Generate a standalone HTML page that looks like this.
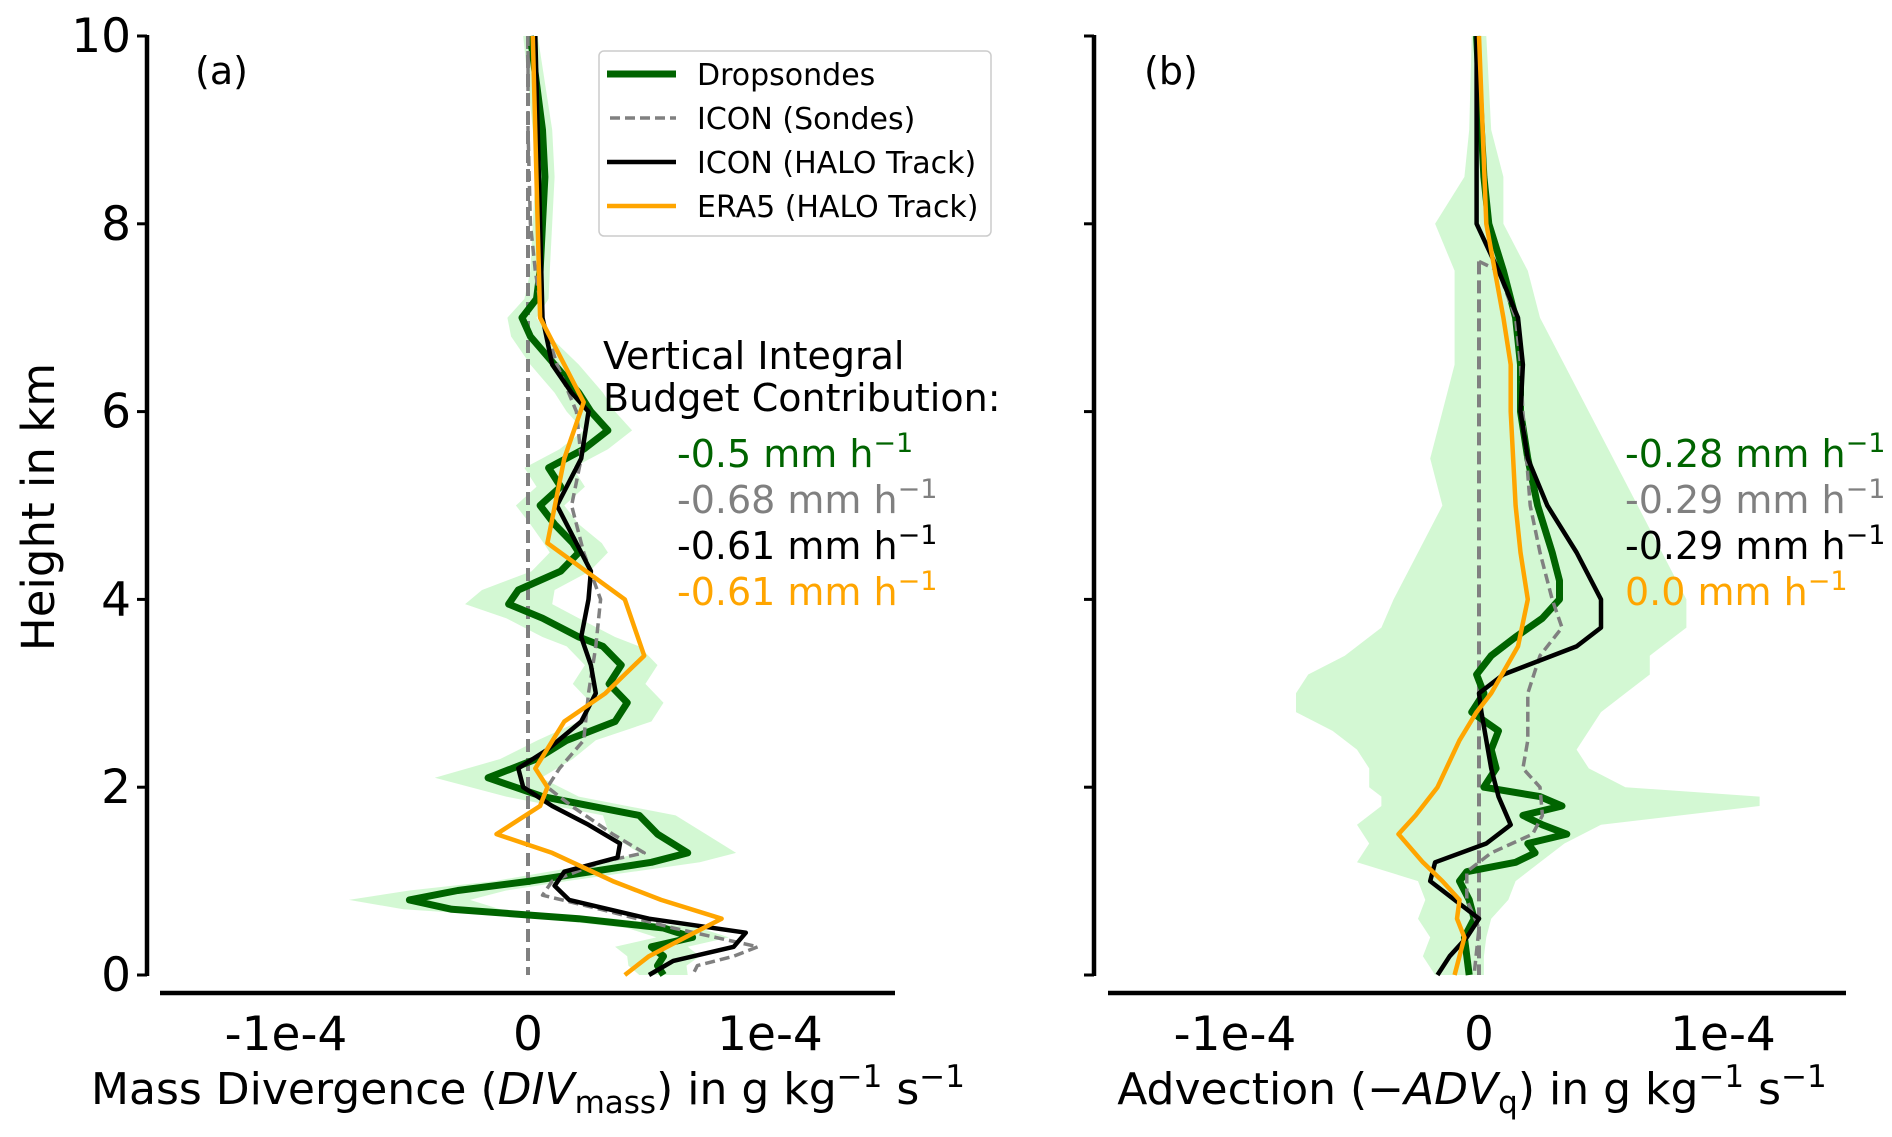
<!DOCTYPE html>
<html><head><meta charset="utf-8">
<style>
html,body{margin:0;padding:0;background:#fff;}
svg{display:block;font-family:"DejaVu Sans","Liberation Sans",sans-serif;}
</style></head>
<body>
<svg id="chart" width="1892" height="1137" viewBox="0 0 1892 1137" xmlns="http://www.w3.org/2000/svg">
<g id="panelA"></g>
<g id="panelB"></g>
<g id="static">
  <text transform="translate(54,507) rotate(-90)" text-anchor="middle" font-size="45">Height in km</text>
  <text x="528" y="1104" text-anchor="middle" font-size="44">Mass Divergence (<tspan font-style="italic">DIV</tspan><tspan font-size="31" dy="9">mass</tspan><tspan dy="-9">) in g kg</tspan><tspan font-size="31" dy="-17">−1</tspan><tspan dy="17"> s</tspan><tspan font-size="31" dy="-17">−1</tspan></text>
  <text x="1472" y="1104" text-anchor="middle" font-size="44">Advection (−<tspan font-style="italic">ADV</tspan><tspan font-size="31" dy="9">q</tspan><tspan dy="-9">) in g kg</tspan><tspan font-size="31" dy="-17">−1</tspan><tspan dy="17"> s</tspan><tspan font-size="31" dy="-17">−1</tspan></text>
  <text x="195" y="84" font-size="38">(a)</text>
  <text x="1144" y="84" font-size="38">(b)</text>
  <g>
    <rect x="599" y="51" width="392" height="185" rx="5" fill="#fff" fill-opacity="0.8" stroke="#ccc" stroke-width="1.5"/>
    <line x1="607" y1="74" x2="676" y2="74" stroke="#006400" stroke-width="7"/>
    <text x="697" y="85" font-size="30">Dropsondes</text>
    <line x1="610" y1="118" x2="676" y2="118" stroke="#808080" stroke-width="3.5" stroke-dasharray="10,5"/>
    <text x="697" y="129" font-size="30">ICON (Sondes)</text>
    <line x1="607" y1="162" x2="676" y2="162" stroke="#000" stroke-width="4.5"/>
    <text x="697" y="173" font-size="30">ICON (HALO Track)</text>
    <line x1="607" y1="206" x2="676" y2="206" stroke="#FFA500" stroke-width="4.5"/>
    <text x="697" y="217" font-size="30">ERA5 (HALO Track)</text>
  </g>
  <g font-size="38">
    <text x="603" y="369">Vertical Integral</text>
    <text x="603" y="411">Budget Contribution:</text>
    <text x="677" y="467" fill="#006400">-0.5 mm h<tspan font-size="27" dy="-15">−1</tspan></text>
    <text x="677" y="513" fill="#808080">-0.68 mm h<tspan font-size="27" dy="-15">−1</tspan></text>
    <text x="677" y="559" fill="#000">-0.61 mm h<tspan font-size="27" dy="-15">−1</tspan></text>
    <text x="677" y="605" fill="#FFA500">-0.61 mm h<tspan font-size="27" dy="-15">−1</tspan></text>
  </g>
  <g font-size="38">
    <text x="1625" y="467" fill="#006400">-0.28 mm h<tspan font-size="27" dy="-15">−1</tspan></text>
    <text x="1625" y="513" fill="#808080">-0.29 mm h<tspan font-size="27" dy="-15">−1</tspan></text>
    <text x="1625" y="559" fill="#000">-0.29 mm h<tspan font-size="27" dy="-15">−1</tspan></text>
    <text x="1625" y="605" fill="#FFA500">0.0 mm h<tspan font-size="27" dy="-15">−1</tspan></text>
  </g>
</g>
</svg>
<script>
// values in units of 1e-5 g/kg/s, heights in km
const hDropA = [10,9,8.5,8,7.5,7.2,7.0,6.8,6.5,6.2,6.0,5.8,5.6,5.4,5.2,5.0,4.8,4.6,4.5,4.3,4.1,3.95,3.8,3.6,3.5,3.3,3.1,2.9,2.7,2.5,2.3,2.1,1.9,1.7,1.5,1.3,1.2,1.0,0.9,0.8,0.7,0.6,0.5,0.4,0.3,0.2,0.1,0];
const vDropA = [0.1,0.6,0.7,0.6,0.5,0.35,-0.25,0.1,1.1,2.1,2.6,3.3,2.3,0.85,1.35,0.5,1.1,1.85,2.1,1.35,-0.4,-0.8,0.6,2.1,3.1,3.85,3.35,4.1,3.6,1.6,0.35,-1.65,0.6,4.6,5.35,6.6,5.1,0.1,-2.9,-4.9,-3.15,2.1,5.6,6.8,5.1,5.6,5.35,5.6];
const sprDropA = [0.3,0.4,0.4,0.4,0.4,0.5,0.6,0.8,1,1,1,1,1,1,1,1,1,1.2,1.2,1.2,1.5,1.8,1.5,1.5,1.5,1.5,1.5,1.5,1.5,1.2,1.5,2.2,1.5,1.5,2,2,2,1.5,2,2.5,2,1.5,1.5,1.5,1.5,1.5,1.2,1];
const hIcsA = [10,9,8,7.5,7,6.5,6,5.5,5,4.5,4,3.5,3,2.5,2.2,2.0,1.8,1.5,1.3,1.2,1.0,0.85,0.7,0.5,0.3,0.2,0.1,0];
const vIcsA = [0,0,0.1,0.3,0.6,1.2,2.0,2.2,1.8,2.3,3.0,2.8,2.5,2.3,1.3,0.8,1.8,3.5,4.8,3.0,1.0,0.6,3.0,6.0,9.5,8.5,7.0,6.8];
const hIchA = [10,8,7,6.5,6.2,6.0,5.5,5.0,4.6,4.3,4.0,3.6,3.3,3.0,2.7,2.4,2.2,2.0,1.8,1.6,1.4,1.25,1.1,0.95,0.8,0.6,0.45,0.3,0.15,0];
const vIchA = [0.3,0.5,0.6,1.0,1.8,2.5,2.2,1.2,2.0,2.6,2.5,2.2,2.6,2.8,2.2,0.8,-0.4,-0.2,1.0,2.5,3.8,3.7,1.5,1.1,1.7,5.0,9.0,8.5,6.0,5.0];
const hEraA = [10,7.0,6.1,5.5,4.6,4.0,3.4,3.0,2.7,2.2,2.0,1.8,1.5,1.3,1.0,0.8,0.6,0.4,0.2,0];
const vEraA = [0.2,0.5,2.3,1.5,0.8,4.0,4.8,3.2,1.5,0.3,0.8,0.5,-1.3,1.0,3.5,5.5,8.0,6.5,5.0,4.0];

const hDropB = [10,9,8.5,8,7.5,7,6.5,6,5.5,5,4.5,4.2,4.0,3.8,3.6,3.4,3.2,3.0,2.8,2.6,2.4,2.2,2.0,1.9,1.8,1.7,1.6,1.5,1.4,1.3,1.2,1.1,1.0,0.8,0.6,0.4,0.2,0];
const vDropB = [-0.1,0.1,0.2,0.4,1.0,1.5,1.7,1.7,2.0,2.4,3.0,3.3,3.3,2.6,1.5,0.5,-0.1,0.2,-0.3,0.8,0.5,0.7,0.2,2.5,3.4,1.8,2.6,3.6,2.0,2.3,1.5,-0.5,-0.8,-0.4,-0.2,-0.6,-0.5,-0.4];
const hBandB = [10,9,8.5,8,7.5,7,6.5,6,5.5,5,4.5,4.0,3.7,3.4,3.2,3.0,2.8,2.6,2.4,2.2,2.0,1.9,1.8,1.6,1.4,1.2,1.0,0.8,0.6,0.4,0.2,0];
const loBandB = [-0.3,-0.4,-0.6,-1.8,-1.0,-1.0,-1.0,-1.5,-2.0,-1.5,-2.5,-3.5,-4.0,-5.5,-7.0,-7.5,-7.5,-6.0,-5.0,-4.5,-4.5,-4.0,-4.0,-5.0,-4.5,-5.0,-2.5,-2.2,-2.5,-2.0,-2.3,-1.8];
const hiBandB = [0.3,0.5,1.0,1.0,2.0,2.5,3.5,4.5,5.5,6.5,7.5,8.5,8.5,7.0,7.0,6.0,5.0,4.5,4.0,4.5,6.0,11.5,11.5,5.0,3.5,2.5,1.5,1.2,0.5,0.3,0.2,0.2];
const hIcsB = [7.6,7.5,7,6.5,6,5,4.5,4,3.7,3.4,3.0,2.5,2.2,2.0,1.7,1.5,1.3,1.1,0.8,0.5,0];
const vIcsB = [0,0.8,1.5,1.7,1.8,2.1,2.5,3.0,3.4,2.5,2.0,2.0,1.8,2.5,2.6,2.2,0.5,-0.5,-0.5,0,-0.2];
const hIchB = [10,8,7.5,7,6.5,6,5.5,5,4.5,4.0,3.7,3.5,3.2,3.0,2.8,2.2,1.9,1.6,1.4,1.2,1.0,0.8,0.6,0.4,0.2,0];
const vIchB = [-0.1,-0.1,0.8,1.6,1.8,1.7,2.0,2.8,4.0,5.0,5.0,4.0,1.0,0,0.1,0.5,0.8,1.3,0.3,-1.8,-2.0,-1.0,0,-0.5,-1.2,-1.7];
const hEraB = [10,8,7,6.5,6,5,4.5,4.0,3.5,3.0,2.8,2.5,2.0,1.7,1.5,1.2,1.0,0.8,0.6,0.4,0.2,0];
const vEraB = [0,0.3,1.0,1.3,1.3,1.5,1.7,2.0,1.6,0.5,-0.1,-0.8,-1.7,-2.6,-3.3,-2.3,-1.5,-0.8,-0.9,-0.6,-0.8,-1.0];

const xTicks = [-10,0,10];
const xTickLabels = ['-1e-4','0','1e-4'];
const yTicks = [0,2,4,6,8,10];

const NS='http://www.w3.org/2000/svg';
function mk(tag,attrs,parent){const e=document.createElementNS(NS,tag);for(const k in attrs)e.setAttribute(k,attrs[k]);parent.appendChild(e);return e;}
const Y0=975, Y10=36;
function yS(h){return Y0+(Y10-Y0)*h/10;}

function drawPanel(g, x0, pxPer, axisX, xLeft, xRight, showYLabels, cfg){
  const xS=v=>x0+v*pxPer;
  let d='';
  cfg.bandH.forEach((h,i)=>{d+=(i?'L':'M')+xS(cfg.bandLo[i]).toFixed(1)+','+yS(h).toFixed(1);});
  for(let i=cfg.bandH.length-1;i>=0;i--){d+='L'+xS(cfg.bandHi[i]).toFixed(1)+','+yS(cfg.bandH[i]).toFixed(1);}
  const band=mk('path',{d:d+'Z',fill:'#90ee90','fill-opacity':'0.4',stroke:'none'},g);
  
  
  const zl=mk('line',{x1:xS(0),x2:xS(0),y1:yS(cfg.zeroTop),y2:yS(0),stroke:'#808080','stroke-width':4,'stroke-dasharray':'13,6'},g);
  
  
  function line(hs,vs,color,w,dash,name){
    const pts=hs.map((h,i)=>xS(vs[i]).toFixed(1)+','+yS(h).toFixed(1)).join(' ');
    const a={points:pts,fill:'none',stroke:color,'stroke-width':w,'stroke-linejoin':'round'};
    if(dash)a['stroke-dasharray']=dash;
    const p=mk('polyline',a,g);
    
    
  }
  line(cfg.dH,cfg.dV,'#006400',7,null,'dropsondes-line');
  line(cfg.sH,cfg.sV,'#808080',3.5,'10,5','icon-sondes-line');
  line(cfg.hH,cfg.hV,'#000',4.5,null,'icon-halo-line');
  line(cfg.eH,cfg.eV,'#FFA500',4.5,null,'era5-halo-line');
  const ya=mk('line',{x1:axisX,x2:axisX,y1:Y10-1,y2:Y0+1,stroke:'#000','stroke-width':4.5},g);
  
  
  const xa=mk('line',{x1:xLeft,x2:xRight,y1:993,y2:993,stroke:'#000','stroke-width':4.5},g);
  
  
  yTicks.forEach(t=>{
    const tk=mk('line',{x1:axisX-10,x2:axisX,y1:yS(t),y2:yS(t),stroke:'#000','stroke-width':3},g);
    
    
    if(showYLabels){
      const tx=mk('text',{x:axisX-16,y:yS(t)+16,'text-anchor':'end','font-size':47},g);
      tx.textContent=String(t);
      
      
    }
  });
  xTicks.forEach((t,i)=>{
    const tx=mk('text',{x:xS(t),y:1050,'text-anchor':'middle','font-size':47},g);
    tx.textContent=xTickLabels[i];
    
    
  });
}
const sprLoA=vDropA.map((v,i)=>v-sprDropA[i]);
const sprHiA=vDropA.map((v,i)=>v+sprDropA[i]);
drawPanel(document.getElementById('panelA'),528,24.2,147,160,895,true,
 {bandH:hDropA,bandLo:sprLoA,bandHi:sprHiA,zeroTop:10,dH:hDropA,dV:vDropA,sH:hIcsA,sV:vIcsA,hH:hIchA,hV:vIchA,eH:hEraA,eV:vEraA});
drawPanel(document.getElementById('panelB'),1479,24.4,1094,1108,1846,false,
 {bandH:hBandB,bandLo:loBandB,bandHi:hiBandB,zeroTop:7.6,dH:hDropB,dV:vDropB,sH:hIcsB,sV:vIcsB,hH:hIchB,hV:vIchB,eH:hEraB,eV:vEraB});
const svg=document.getElementById('chart');svg.appendChild(document.getElementById('static'));
</script>
</body></html>
